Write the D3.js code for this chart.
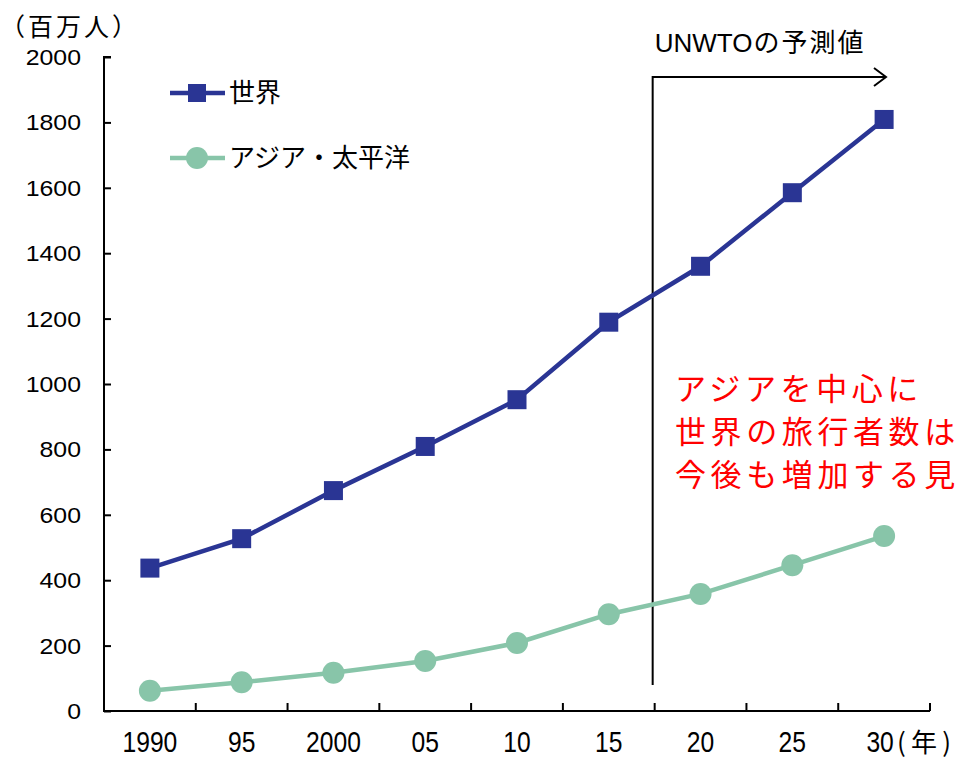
<!DOCTYPE html>
<html>
<head>
<meta charset="utf-8">
<script src="https://cdn.jsdelivr.net/npm/d3@7"></script>
<style>
  html, body { margin: 0; padding: 0; background: #fff; }
  svg { display: block; }
  text { font-family: "Liberation Sans", Arial, "Noto Sans CJK JP", sans-serif; }
  .jp { font-family: "Noto Sans CJK JP", sans-serif; }
</style>
</head>
<body>
<svg id="chart" width="955" height="757"></svg>
<script>
// Years shown on the x axis
const years = ["1990", "95", "2000", "05", "10", "15", "20", "25", "30"];
// International tourist arrivals (millions)
const worldValues = [437, 527, 674, 809, 952, 1189, 1360, 1585, 1809];
const asiaValues = [62, 88, 117, 153, 208, 296, 358, 446, 535];
const yTicks = [0, 200, 400, 600, 800, 1000, 1200, 1400, 1600, 1800, 2000];
const seriesNames = ["世界", "アジア・太平洋"];
const forecastFrom = "20"; // first forecast year
const noteLines = ["アジアを中心に", "世界の旅行者数は", "今後も増加する見込み"];

const svg = d3.select("#chart");
const left = 104, right = 930;

const x = d3.scaleBand().domain(years).range([left, right]).paddingInner(0).paddingOuter(0);
const y = d3.scaleLinear().domain([0, 2000]).range([711, 57]);

const worldColor = "#2a3594";
const asiaColor = "#88c5a9";

// y axis: ticks point inward
const yAxis = d3.axisRight(y).tickValues(yTicks).tickSize(7).tickFormat("");
const gy = svg.append("g").attr("transform", `translate(${left},0)`).call(yAxis);
gy.select(".domain").attr("stroke", "#000").attr("stroke-width", 2).attr("d", `M7,${y(2000)}H0V${y(0)}`);
gy.selectAll(".tick line").attr("stroke", "#000").attr("stroke-width", 2);
// y tick labels, slightly widened face
svg.append("g").selectAll("text").data(yTicks).join("text")
  .attr("transform", d => `translate(81,${y(d) + 8}) scale(1.13,1)`)
  .attr("text-anchor", "end").attr("font-size", 22).attr("fill", "#000")
  .text(d => d);

// x axis: ticks at category boundaries, pointing up
const boundaries = years.map(d => x(d) + x.bandwidth());
const gx = svg.append("g");
gx.append("line").attr("x1", left - 1).attr("x2", right)
  .attr("y1", y(0)).attr("y2", y(0)).attr("stroke", "#000").attr("stroke-width", 2);
gx.selectAll("line.t").data(boundaries).join("line").attr("class", "t")
  .attr("x1", d => d).attr("x2", d => d).attr("y1", y(0)).attr("y2", y(0) - 8)
  .attr("stroke", "#000").attr("stroke-width", 2);
// x tick labels, tall narrow face
gx.selectAll("text").data(years).join("text")
  .attr("transform", d => `translate(${x(d) + x.bandwidth() / 2 - (d === "30" ? 4 : 0)},752) scale(0.85,1)`)
  .attr("text-anchor", "middle").attr("font-size", 29).attr("fill", "#000")
  .text(d => d);
svg.append("text").attr("class", "jp")
  .attr("x", 897).attr("y", 752)
  .attr("font-size", 26).attr("fill", "#000")
  .attr("textLength", 54).attr("lengthAdjust", "spacing").text("(年)");

// unit label
svg.append("text").attr("class", "jp").attr("x", 0).attr("y", 36)
  .attr("font-size", 25).attr("letter-spacing", 3).attr("fill", "#000").text("（百万人）");

// forecast marker
const fx = x(forecastFrom) - 2;
const arrowEnd = 886;
const arrowY = 77;
svg.append("path")
  .attr("d", `M${fx},685V${arrowY}H${arrowEnd}`)
  .attr("fill", "none").attr("stroke", "#000").attr("stroke-width", 2);
svg.append("path")
  .attr("d", `M${arrowEnd - 12},${arrowY - 9}L${arrowEnd},${arrowY}L${arrowEnd - 12},${arrowY + 9}`)
  .attr("fill", "none").attr("stroke", "#000").attr("stroke-width", 2);
const fcLabel = svg.append("text").attr("x", fx + 2).attr("y", 52)
  .attr("font-size", 26).attr("fill", "#000");
fcLabel.append("tspan").text("UNWTO");
fcLabel.append("tspan").attr("class", "jp").attr("dx", 1).attr("letter-spacing", 2).text("の予測値");

// series
const cx = d => x(d) + x.bandwidth() / 2;
const line = d3.line().x(d => cx(d.year)).y(d => y(d.value));
const worldData = years.map((yr, i) => ({ year: yr, value: worldValues[i] }));
const asiaData = years.map((yr, i) => ({ year: yr, value: asiaValues[i] }));

svg.append("path").datum(asiaData).attr("d", line)
  .attr("fill", "none").attr("stroke", asiaColor).attr("stroke-width", 4.5);
svg.append("g").selectAll("circle").data(asiaData).join("circle")
  .attr("cx", d => cx(d.year)).attr("cy", d => y(d.value)).attr("r", 11)
  .attr("fill", asiaColor);

svg.append("path").datum(worldData).attr("d", line)
  .attr("fill", "none").attr("stroke", worldColor).attr("stroke-width", 4.5);
const sq = 19;
svg.append("g").selectAll("rect").data(worldData).join("rect")
  .attr("x", d => cx(d.year) - sq / 2).attr("y", d => y(d.value) - sq / 2)
  .attr("width", sq).attr("height", sq).attr("fill", worldColor);

// legend
const legend = svg.append("g");
const lg1 = 93, lg2 = 158;
legend.append("line").attr("x1", 170).attr("x2", 225).attr("y1", lg1).attr("y2", lg1)
  .attr("stroke", worldColor).attr("stroke-width", 4.5);
legend.append("rect").attr("x", 197 - 9).attr("y", lg1 - 9).attr("width", 18).attr("height", 18).attr("fill", worldColor);
legend.append("line").attr("x1", 170).attr("x2", 225).attr("y1", lg2).attr("y2", lg2)
  .attr("stroke", asiaColor).attr("stroke-width", 4.5);
legend.append("circle").attr("cx", 197).attr("cy", lg2).attr("r", 11).attr("fill", asiaColor);
legend.append("text").attr("class", "jp").attr("x", 229).attr("y", lg1).attr("dy", "0.36em")
  .attr("font-size", 26).attr("fill", "#000").text(seriesNames[0]);
legend.append("text").attr("class", "jp").attr("x", 229).attr("y", lg2).attr("dy", "0.36em")
  .attr("font-size", 26).attr("fill", "#000").text(seriesNames[1]);

// annotation (runs past the right edge)
svg.append("g").selectAll("text").data(noteLines).join("text").attr("class", "jp")
  .attr("x", 675).attr("y", (d, i) => 400 + i * 43)
  .attr("font-size", 31).attr("letter-spacing", 4.6).attr("fill", "#ff0000").text(d => d);
</script>
</body>
</html>
